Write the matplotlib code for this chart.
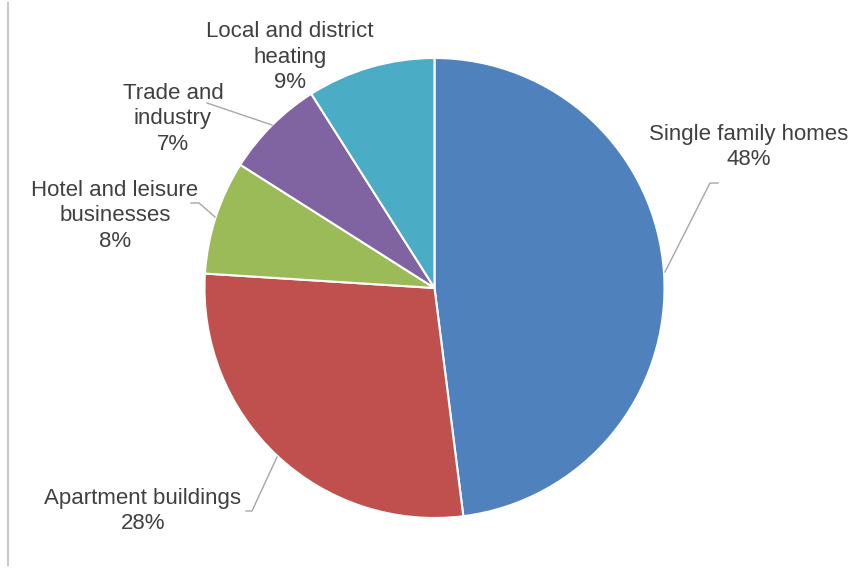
import matplotlib.pyplot as plt

# heat demand shares by sector
labels = ["Single family homes", "Apartment buildings", "Hotel and leisure\nbusinesses",
          "Trade and\nindustry", "Local and district\nheating"]
shares = [48, 28, 8, 7, 9]
colors = ["#4F81BD", "#C0504D", "#9BBB59", "#8064A2", "#4BACC6"]

W, H = 853, 570

fig = plt.figure(figsize=(W / 100, H / 100), dpi=100)
ax = fig.add_axes([0, 0, 1, 1])

ax.pie(shares, colors=colors, startangle=90, counterclock=False,
       center=(434.5, H - 288), radius=230,
       wedgeprops=dict(edgecolor="white", linewidth=1.5))
ax.set_xlim(0, W)
ax.set_ylim(0, H)
ax.axis("off")

# label text positions (pixels from top-left) and leader lines
text_pos = [(749, 147), (143, 511), (115, 216), (173, 119), (290, 57)]
leaders = [
    [(665, 272), (710, 183), (718, 183)],
    [(277, 457), (252, 511), (246, 511)],
    [(215, 217), (199, 203), (191, 203)],
    [(272, 125), (207, 103)],
    None,
]

for lab, s, (x, y), ld in zip(labels, shares, text_pos, leaders):
    ax.text(x, H - y, f"{lab}\n{s}%", ha="center", va="center",
            fontsize=16, family="Liberation Sans", color="#404040",
            linespacing=1.27)
    if ld:
        ax.plot([p[0] for p in ld], [H - p[1] for p in ld],
                color="#A6A6A6", lw=1)

# left border line of the chart area
ax.plot([8, 8], [H - 3, H - 565], color="#C8C8C8", lw=1.5)

fig.savefig("out.png", dpi=100)
